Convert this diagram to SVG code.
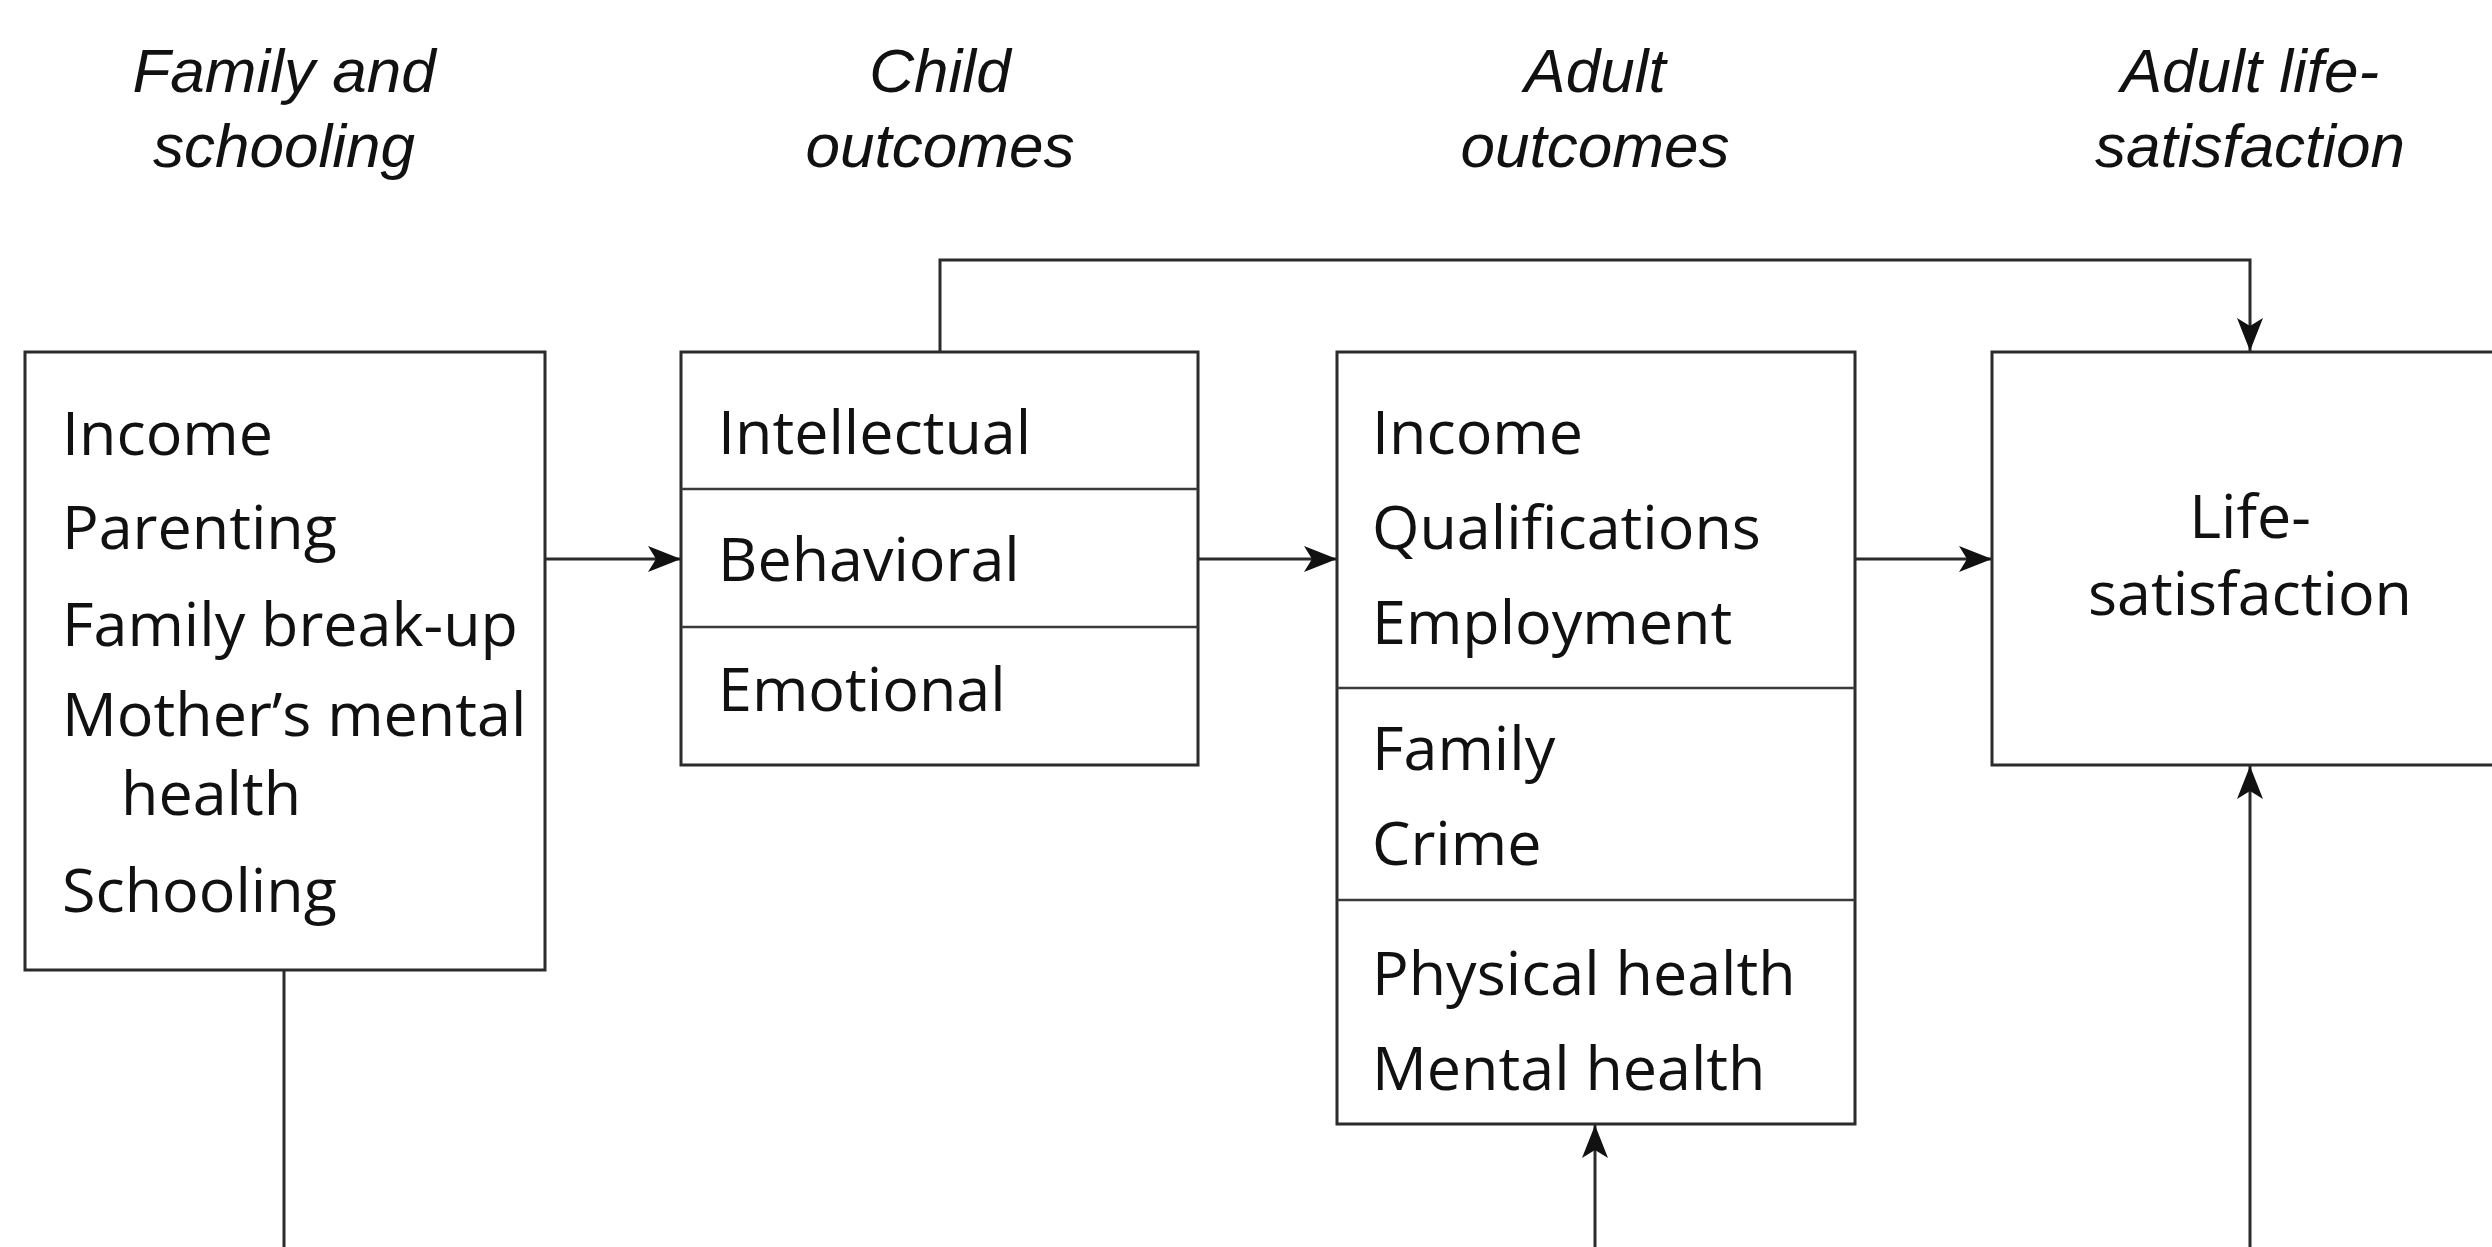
<svg xmlns="http://www.w3.org/2000/svg" width="2492" height="1247" viewBox="0 0 2492 1247">
  <style>
    .box { fill: #ffffff; stroke: #2b2b2b; stroke-width: 3; }
    .div { stroke: #3a3a3a; stroke-width: 2.5; fill: none; }
    .wire { stroke: #2b2b2b; stroke-width: 3; fill: none; }
    .head { font-family: "Liberation Sans", Arial, sans-serif; font-style: italic; font-size: 62px; fill: #111; text-anchor: middle; }
    .item { font-family: "Open Sans", "Noto Sans", sans-serif; font-size: 61px; fill: #111; }
    .mid { text-anchor: middle; }
  </style>
  <defs>
    <marker id="arrow" markerWidth="34" markerHeight="26" refX="33" refY="13" orient="auto" markerUnits="userSpaceOnUse">
      <path d="M0,0 L33,13 L0,26 L8,13 Z" fill="#111"/>
    </marker>
  </defs>
  <rect width="2492" height="1247" fill="#ffffff"/>

  <!-- column headings -->
  <g id="headings">
    <text class="head" x="284" y="92">Family and</text>
    <text class="head" x="284" y="167">schooling</text>
    <text class="head" x="940" y="92">Child</text>
    <text class="head" x="940" y="167">outcomes</text>
    <text class="head" x="1595" y="92">Adult</text>
    <text class="head" x="1595" y="167">outcomes</text>
    <text class="head" x="2250" y="92">Adult life-</text>
    <text class="head" x="2250" y="167">satisfaction</text>
  </g>

  <!-- connectors -->
  <g id="connectors">
    <line class="wire" x1="545" y1="559" x2="681" y2="559" marker-end="url(#arrow)"/>
    <line class="wire" x1="1198" y1="559" x2="1337" y2="559" marker-end="url(#arrow)"/>
    <line class="wire" x1="1855" y1="559" x2="1992" y2="559" marker-end="url(#arrow)"/>
    <polyline class="wire" points="940,352 940,260 2250,260 2250,351" marker-end="url(#arrow)"/>
    <line class="wire" x1="284" y1="970" x2="284" y2="1250"/>
    <line class="wire" x1="1595" y1="1250" x2="1595" y2="1125" marker-end="url(#arrow)"/>
    <line class="wire" x1="2250" y1="1250" x2="2250" y2="766" marker-end="url(#arrow)"/>
  </g>

  <!-- family and schooling -->
  <g id="node-family">
    <rect class="box" x="25" y="352" width="520" height="618"/>
    <text class="item" x="62" y="455">Income</text>
    <text class="item" x="62" y="549">Parenting</text>
    <text class="item" x="62" y="646">Family break-up</text>
    <text class="item" x="62" y="736">Mother’s mental</text>
    <text class="item" x="121" y="815">health</text>
    <text class="item" x="62" y="912">Schooling</text>
  </g>

  <!-- child outcomes -->
  <g id="node-child">
    <rect class="box" x="681" y="352" width="517" height="413"/>
    <line class="div" x1="681" y1="489" x2="1198" y2="489"/>
    <line class="div" x1="681" y1="627" x2="1198" y2="627"/>
    <text class="item" x="718" y="454">Intellectual</text>
    <text class="item" x="718" y="581">Behavioral</text>
    <text class="item" x="718" y="711">Emotional</text>
  </g>

  <!-- adult outcomes -->
  <g id="node-adult">
    <rect class="box" x="1337" y="352" width="518" height="772"/>
    <line class="div" x1="1337" y1="688" x2="1855" y2="688"/>
    <line class="div" x1="1337" y1="900" x2="1855" y2="900"/>
    <text class="item" x="1372" y="454">Income</text>
    <text class="item" x="1372" y="549">Qualifications</text>
    <text class="item" x="1372" y="644">Employment</text>
    <text class="item" x="1372" y="770">Family</text>
    <text class="item" x="1372" y="865">Crime</text>
    <text class="item" x="1372" y="995">Physical health</text>
    <text class="item" x="1372" y="1090">Mental health</text>
  </g>

  <!-- adult life-satisfaction -->
  <g id="node-life">
    <rect class="box" x="1992" y="352" width="516" height="413"/>
    <text class="item mid" x="2250" y="538">Life-</text>
    <text class="item mid" x="2250" y="615">satisfaction</text>
  </g>
</svg>
